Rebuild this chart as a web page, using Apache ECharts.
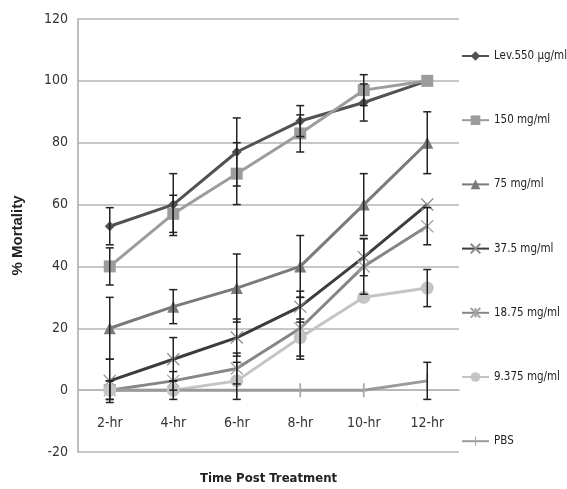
<!DOCTYPE html>
<html>
<head>
<meta charset="utf-8">
<script src="https://cdn.jsdelivr.net/npm/echarts@6/dist/echarts.min.js"></script>
<style>
html,body{margin:0;padding:0;background:#fff;}
#c{width:567px;height:489px;}
</style>
</head>
<body>
<div id="c"></div>
<script>
var categories = ['2-hr','4-hr','6-hr','8-hr','10-hr','12-hr'];
var seriesNames = ['Lev.550 µg/ml','150 mg/ml','75 mg/ml','37.5 mg/ml','18.75 mg/ml','9.375 mg/ml','PBS'];
var lev550 = [53, 60, 77, 87, 93, 100];
var mg150 = [40, 57, 70, 83, 97, 100];
var mg75 = [20, 27, 33, 40, 60, 80];
var mg37 = [3, 10, 17, 27, 43, 60];
var mg18 = [0, 3, 7, 20, 40, 53];
var mg9 = [0, 0, 3, 17, 30, 33];
var pbs = [0, 0, 0, 0, 0, 3];
var errLev = [6, 10, 11, 5, 6, 0];
var err150 = [6, 6, 10, 6, 5, 0];
var err75 = [10, 5.5, 11, 10, 10, 10];
var err37 = [7, 7, 6, 5, 6, 0];
var err18 = [3, 3, 5, 10, 9, 6];
var err9 = [3, 3, 6, 6, 0, 6];
var errPbs = [0, 0, 0, 0, 0, 6];
var yTicks = [-20, 0, 20, 40, 60, 80, 100, 120];

var FONT = "'DejaVu Sans Condensed','DejaVu Sans',sans-serif";
var values = [lev550, mg150, mg75, mg37, mg18, mg9, pbs];
var errors = [errLev, err150, err75, err37, err18, err9, errPbs];
var colors = ['#525252', '#9c9c9c', '#7a7a7a', '#3c3c3c', '#868686', '#c4c4c4', '#9a9a9a'];
var markerColors = ['#525252', '#9c9c9c', '#7a7a7a', '#8c8c8c', '#a4a4a4', '#c4c4c4', '#a8a8a8'];
var symbols = [
  'diamond', 'rect', 'triangle',
  'path://M0,0L10,10M10,0L0,10',
  'path://M0,0L10,10M10,0L0,10M5,0L5,10',
  'circle',
  'path://M4.4,0L5.6,0L5.6,10L4.4,10Z M0,5L0.02,5L0.02,5.02Z M10,5L9.98,5L9.98,5.02Z'
];
var symbolSizes = [10, 12, 12, 12, 12, 13, 14];
var strokeSym = [false, false, false, true, true, false, false];

var series = [];
values.forEach(function (vals, i) {
  series.push({
    name: seriesNames[i],
    type: 'line',
    data: vals,
    symbol: symbols[i],
    symbolSize: symbolSizes[i],
    showAllSymbol: true,
    lineStyle: { color: colors[i], width: 3 },
    itemStyle: strokeSym[i]
      ? { color: markerColors[i], borderColor: markerColors[i], borderWidth: 1.3 }
      : { color: markerColors[i], borderWidth: 0 },
    z: 2,
    animation: false
  });
});
values.forEach(function (vals, i) {
  var data = vals.map(function (v, k) { return [k, v, errors[i][k]]; });
  series.push({
    type: 'custom',
    data: data,
    z: 5,
    animation: false,
    silent: true,
    renderItem: function (params, api) {
      var x = api.value(0), m = api.value(1), e = api.value(2);
      if (!e) return null;
      var top = api.coord([x, m + e]);
      var bot = api.coord([x, m - e]);
      var hw = 4;
      var st = { stroke: '#222', lineWidth: 1.5 };
      return {
        type: 'group',
        children: [
          { type: 'line', shape: { x1: top[0], y1: top[1], x2: bot[0], y2: bot[1] }, style: st },
          { type: 'line', shape: { x1: top[0] - hw, y1: top[1], x2: top[0] + hw, y2: top[1] }, style: st },
          { type: 'line', shape: { x1: bot[0] - hw, y1: bot[1], x2: bot[0] + hw, y2: bot[1] }, style: st }
        ]
      };
    }
  });
});

var chart = echarts.init(document.getElementById('c'));
chart.setOption({
  backgroundColor: '#fff',
  animation: false,
  grid: { left: 78, right: 108, top: 19, bottom: 37, outerBoundsMode: 'none' },
  legend: {
    data: seriesNames,
    orient: 'vertical',
    left: 456,
    top: 45,
    itemWidth: 27,
    itemHeight: 12,
    itemGap: 52.2,
    textStyle: { fontFamily: FONT, fontSize: 11.5, color: '#222' }
  },
  xAxis: {
    type: 'category',
    data: categories,
    boundaryGap: true,
    axisLine: { show: true, lineStyle: { color: '#b5b5b5', width: 1.5 } },
    axisTick: { show: false },
    axisLabel: { margin: -36, fontFamily: FONT, fontSize: 14, color: '#333' },
    name: 'Time Post Treatment',
    nameLocation: 'middle',
    nameGap: 20,
    nameTextStyle: { fontFamily: FONT, fontSize: 13, fontWeight: 'bold', color: '#222' }
  },
  yAxis: {
    type: 'value',
    min: yTicks[0],
    max: yTicks[yTicks.length - 1],
    interval: 20,
    axisLine: { show: true, lineStyle: { color: '#aaa', width: 1.5 } },
    axisTick: { show: false },
    axisLabel: { margin: 10, fontFamily: FONT, fontSize: 14, color: '#333' },
    splitLine: { lineStyle: { color: '#b5b5b5', width: 1.5 } },
    name: '% Mortality',
    nameLocation: 'middle',
    nameGap: 53,
    nameRotate: 90,
    nameTextStyle: { fontFamily: "'Liberation Sans',Arial,sans-serif", fontSize: 15, fontWeight: 'bold', color: '#222' }
  },
  series: series
});
</script>
</body>
</html>
